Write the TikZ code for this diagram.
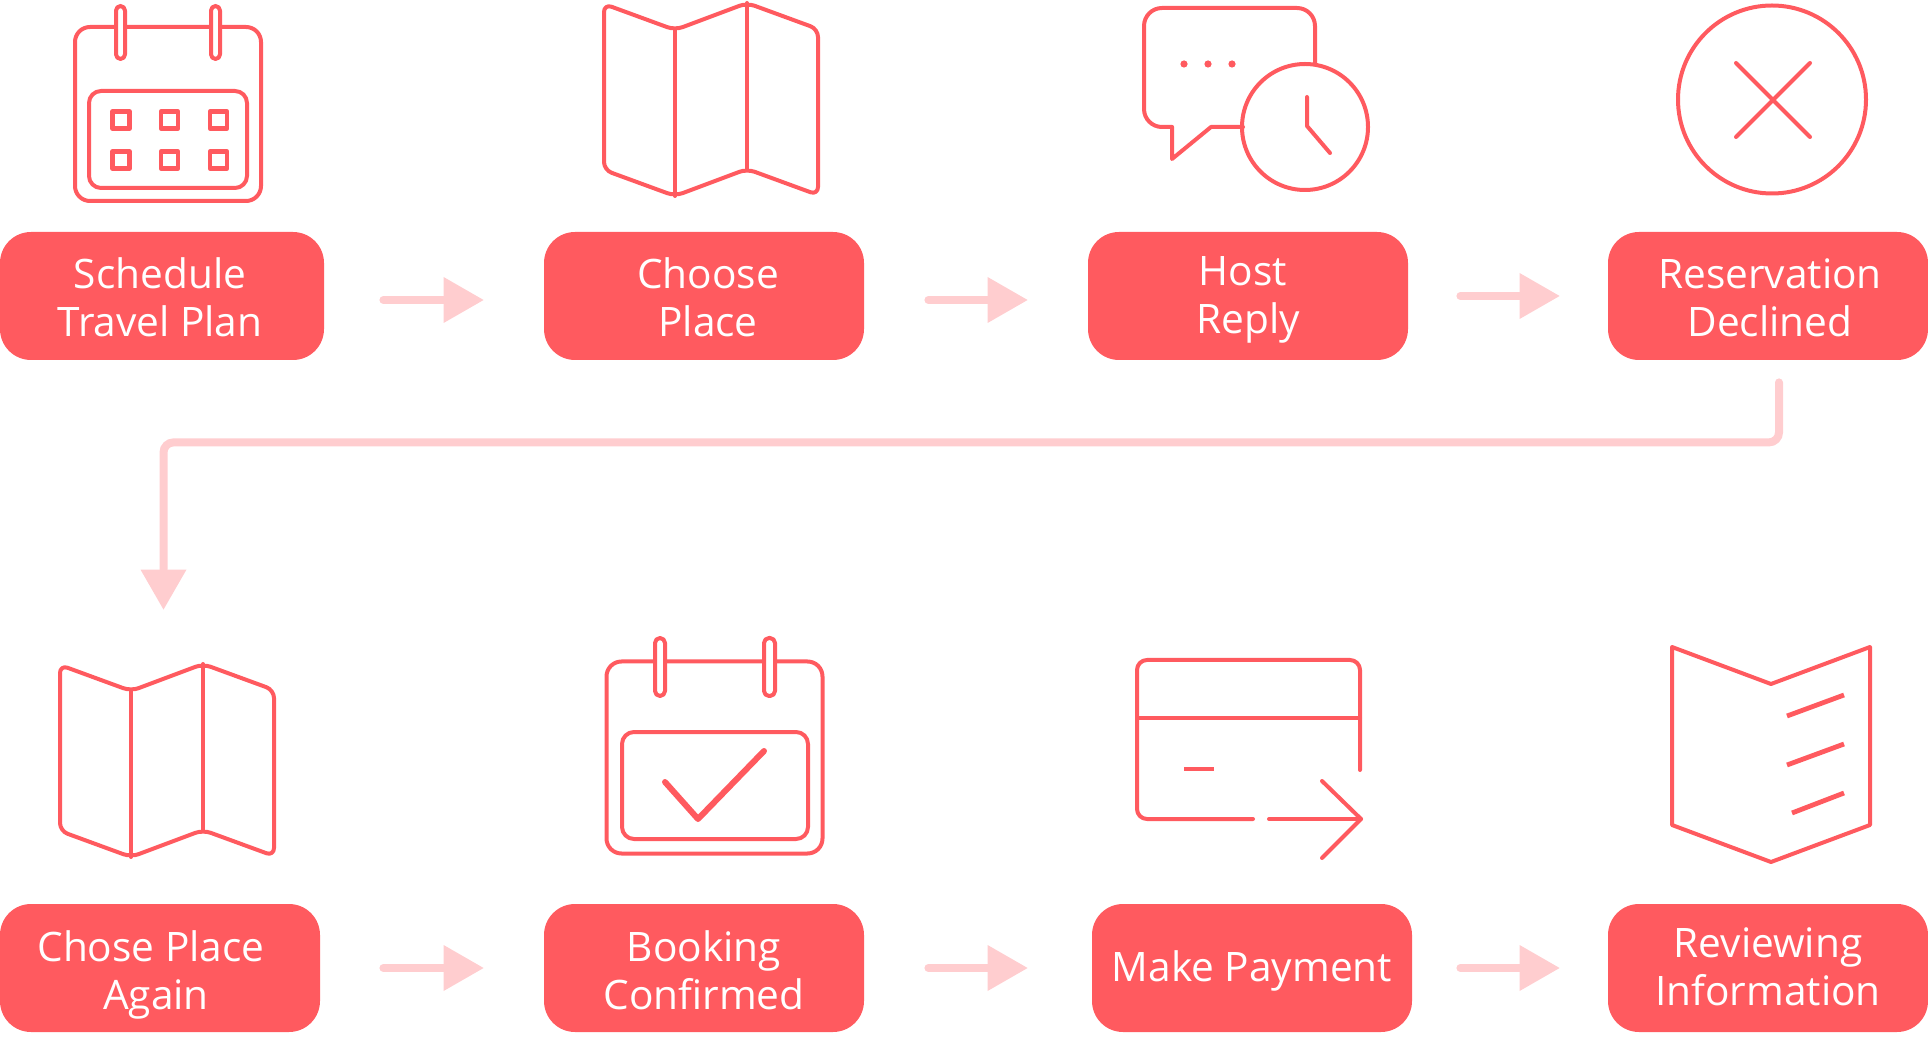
\documentclass[tikz,border=0pt]{standalone}
\usepackage{fontspec}
\setmainfont{Open Sans}
\usetikzlibrary{arrows.meta}
\definecolor{coral}{HTML}{FF5A5F}
\definecolor{blush}{HTML}{FFCDCF}
\begin{document}
\begin{tikzpicture}[
    x=0.5pt,
    y=-0.5pt,
    >={Triangle[length=20pt,width=23pt,line width=0pt]},
    stepbox/.style={
        fill=coral,
        rounded corners=15.5pt,
        minimum width=160pt,
        minimum height=64pt,
        inner sep=0pt,
        align=center,
        text=white,
        font=\fontsize{20.3}{24}\selectfont,
        text height=41pt,
        text depth=0pt
    },
    arr/.style={->, line width=4pt, line cap=round, draw=blush},
    icon/.style={draw=coral, line width=2pt, line join=round, line cap=round},
    iconbold/.style={icon, line width=3pt},
    tick/.style={icon, line width=2.4pt, line cap=butt}
]
    \useasboundingbox (0,0) rectangle (1928,1063);

    \node[stepbox, minimum width=162pt] (schedule) at (162,296) {Schedule\hspace*{2pt}\\Travel Plan\hspace*{2pt}};
    \node[stepbox] (choose) at (704,296) {\hspace*{4pt}Choose\\\hspace*{4pt}Place};
    \node[stepbox, text height=38pt] (host) at (1248,296) {Host\hspace*{5pt}\\Reply};
    \node[stepbox] (reservation) at (1768,296) {\hspace*{2pt}Reservation\\\hspace*{2pt}Declined};

    \node[stepbox] (chose) at (160,968) {Chose Place\hspace*{9pt}\\Again\hspace*{4pt}};
    \node[stepbox] (booking) at (704,968) {Booking\\Confirmed};
    \node[stepbox, text height=13pt] (payment) at (1252,968) {Make Payment};
    \node[stepbox, text height=37pt] (reviewing) at (1768,968) {Reviewing\\Information};

    \draw[arr, shorten <=29.5pt, shorten >=30pt] ([yshift=-2pt]schedule.east) -- ([yshift=-2pt]choose.west);
    \draw[arr, shorten <=32pt, shorten >=30pt] ([yshift=-2pt]choose.east) -- ([yshift=-2pt]host.west);
    \draw[arr, shorten <=26pt, shorten >=24pt] (host) -- (reservation);
    \draw[arr, rounded corners=5pt, shorten <=11pt, shorten >=147pt] ([xshift=5.5pt]reservation.south) -- ++(0,82) -| ([xshift=1.75pt]chose.north);
    \draw[arr, shorten <=31.5pt, shorten >=30pt] (chose) -- (booking);
    \draw[arr, shorten <=32pt, shorten >=32pt] (booking) -- (payment);
    \draw[arr, shorten <=24pt, shorten >=24pt] (payment) -- (reviewing);

    \draw[icon, rounded corners=7.5pt] (75,27) rectangle (261,201);
    \draw[icon, rounded corners=6pt] (89,91) rectangle (247,188);
    \draw[icon, fill=white, rounded corners=2.3pt] (116,6) rectangle (125,59);
    \draw[icon, fill=white, rounded corners=2.3pt] (211,6) rectangle (220,59);
    \foreach \x in {121,169.5,218.5}
        \foreach \y in {120,160}
            \draw[icon, line width=2.2pt, line cap=butt] (\x-8.5,\y-8.5) rectangle (\x+8.5,\y+8.5);

    \foreach \dx/\dy in {0/0,-544/661} {
        \begin{scope}[shift={(\dx,\dy)}]
            \draw[icon, rounded corners=4pt] (604,4) -- (675,30) -- (747,3) -- (818,29) -- (818,195) -- (747,169) -- (675,196) -- (604,170) -- cycle;
            \draw[icon] (675,30) -- (675,196);
            \draw[icon] (747,3) -- (747,169);
        \end{scope}
    }

    \draw[icon, rounded corners=9pt] (1315,63) -- (1315,8) -- (1144,8) -- (1144,127) -- (1172,127);
    \draw[icon] (1172,127) -- (1172,159) -- (1211,127) -- (1243,127);
    \foreach \x in {1184,1208,1232}
        \fill[coral] (\x,64) circle (1.8pt);
    \draw[icon] (1305,127) circle (31.5pt);
    \draw[icon] (1307,97) -- (1307,126) -- (1330,153);

    \draw[icon] (1772,99.5) circle (47pt);
    \draw[icon] (1736,63) -- (1810,137);
    \draw[icon] (1810,63) -- (1736,137);

    \draw[icon, rounded corners=7.5pt] (606.5,661.5) rectangle (822.5,853.5);
    \draw[icon, rounded corners=6pt] (622,732) rectangle (808,839);
    \draw[icon, fill=white, rounded corners=2.5pt] (655,638) rectangle (665,696);
    \draw[icon, fill=white, rounded corners=2.5pt] (764,638) rectangle (775,696);
    \draw[iconbold] (665,782) -- (698,819) -- (764,751);

    \draw[icon, rounded corners=5pt] (1360,770) -- (1360,660) -- (1137,660) -- (1137,819) -- (1253,819);
    \draw[icon] (1137,718) -- (1360,718);
    \draw[tick] (1184,769) -- (1214,769);
    \draw[icon] (1269,819) -- (1361,819);
    \draw[icon] (1322,781) -- (1361,819) -- (1322,858);

    \draw[icon] (1672,647) -- (1771,684) -- (1870,647) -- (1870,825) -- (1771,862) -- (1672,825) -- cycle;
    \draw[tick] (1787,716) -- (1844,695);
    \draw[tick] (1787,765) -- (1844,744);
    \draw[tick] (1792,813) -- (1844,793);
\end{tikzpicture}
\end{document}
